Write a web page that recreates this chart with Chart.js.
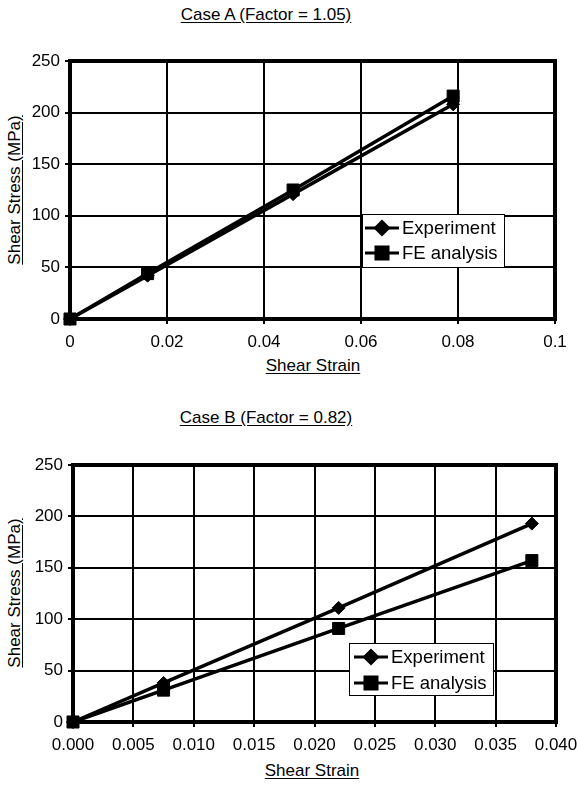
<!DOCTYPE html>
<html>
<head>
<meta charset="utf-8">
<script src="https://cdn.jsdelivr.net/npm/chart.js@4/dist/chart.umd.min.js"></script>
<style>
  html, body { margin: 0; padding: 0; background: #fff; }
  body { width: 577px; height: 785px; position: relative; overflow: hidden;
         font-family: "Liberation Sans", Arial, sans-serif; color: #000; }
  canvas { position: absolute; left: 0; }
  .t { position: absolute; font-size: 17px; line-height: 20px; white-space: nowrap;
       text-decoration: underline; text-underline-offset: 2px; text-align: center; }
  .yt { transform: rotate(-90deg); transform-origin: center center; }
</style>
</head>
<body>
<div class="t" id="titleA" style="left:0; width:532px; top:5px;"></div>
<div class="t yt" id="ytA" style="left:-85px; width:200px; top:180px;"></div>
<div class="t" id="xtA" style="left:213px; width:200px; top:356px;"></div>
<canvas id="cA" width="577" height="320" style="top:40px; width:577px; height:320px;"></canvas>

<div class="t" id="titleB" style="left:0; width:532px; top:408px;"></div>
<div class="t yt" id="ytB" style="left:-85px; width:200px; top:583px;"></div>
<div class="t" id="xtB" style="left:212px; width:200px; top:761px;"></div>
<canvas id="cB" width="577" height="320" style="top:440px; width:577px; height:320px;"></canvas>

<script>
// ---------- data ----------
const titleA = "Case A (Factor = 1.05)";
const titleB = "Case B (Factor = 0.82)";
const xAxisTitle = "Shear Strain";
const yAxisTitle = "Shear Stress (MPa)";
const seriesNames = ["Experiment", "FE analysis"];

const strainA = [0, 0.016, 0.046, 0.079];
const experimentA = [0, 42, 121, 208];
const feAnalysisA = [0, 44, 125, 216];

const strainB = [0, 0.0075, 0.022, 0.038];
const experimentB = [0, 38, 111, 193];
const feAnalysisB = [0, 31, 91, 157];

const xTickValuesA = [0, 0.02, 0.04, 0.06, 0.08, 0.1];
const xTickLabelsA = ["0", "0.02", "0.04", "0.06", "0.08", "0.1"];
const xTickValuesB = [0, 0.005, 0.01, 0.015, 0.02, 0.025, 0.03, 0.035, 0.04];
const xTickLabelsB = ["0.000", "0.005", "0.010", "0.015", "0.020", "0.025", "0.030", "0.035", "0.040"];
const yTickValues = [0, 50, 100, 150, 200, 250];
const yTickLabels = ["0", "50", "100", "150", "200", "250"];

// ---------- text ----------
document.getElementById('titleA').textContent = titleA;
document.getElementById('titleB').textContent = titleB;
document.getElementById('ytA').textContent = yAxisTitle;
document.getElementById('ytB').textContent = yAxisTitle;
document.getElementById('xtA').textContent = xAxisTitle;
document.getElementById('xtB').textContent = xAxisTitle;

const FONT = { family: '"Liberation Sans", Arial, sans-serif', size: 17 };
const INK = '#000';

function pts(xs, ys) { return xs.map((x, i) => ({ x: x, y: ys[i] })); }

// frame around plot area
const framePlugin = {
  id: 'frame',
  beforeDatasetsDraw(chart) {
    const a = chart.chartArea, ctx = chart.ctx;
    ctx.save();
    ctx.strokeStyle = INK;
    ctx.lineWidth = 4;
    ctx.strokeRect(a.left, a.top, a.right - a.left, a.bottom - a.top);
    ctx.restore();
  }
};

// inset legend with border
const insetLegend = {
  id: 'insetLegend',
  afterDatasetsDraw(chart, args, opts) {
    const a = chart.chartArea, ctx = chart.ctx;
    const bx = a.left + opts.dx, by = a.top + opts.dy;
    ctx.save();
    ctx.fillStyle = '#fff';
    ctx.fillRect(bx, by, opts.w, opts.h);
    ctx.strokeStyle = INK;
    ctx.lineWidth = 1;
    ctx.strokeRect(bx + 0.5, by + 0.5, opts.w, opts.h);
    chart.data.datasets.forEach((ds, i) => {
      const y = by + opts.rowY[i];
      const x0 = bx + opts.lineX0, x1 = bx + opts.lineX1;
      ctx.strokeStyle = INK;
      ctx.lineWidth = 3;
      ctx.beginPath(); ctx.moveTo(x0, y); ctx.lineTo(x1, y); ctx.stroke();
      ctx.fillStyle = INK;
      Chart.helpers.drawPoint(ctx, {
        pointStyle: ds.pointStyle, radius: ds.pointRadius, rotation: 0, borderWidth: 1
      }, (x0 + x1) / 2, y);
      ctx.fillStyle = INK;
      ctx.font = '18.5px "Liberation Sans", Arial, sans-serif';
      ctx.textBaseline = 'middle';
      ctx.textAlign = 'left';
      ctx.fillText(ds.label, x1 + 3, y + 1);
    });
    ctx.restore();
  }
};

function makeChart(id, xs, e, f, xVals, xLabels, xMax, opt) {
  return new Chart(document.getElementById(id), {
    type: 'scatter',
    data: {
      datasets: [
        { label: seriesNames[0], data: pts(xs, e), showLine: true,
          borderColor: INK, backgroundColor: INK, borderWidth: 3.5,
          pointStyle: 'rectRot', pointRadius: 6.5, pointBorderWidth: 1, clip: false },
        { label: seriesNames[1], data: pts(xs, f), showLine: true,
          borderColor: INK, backgroundColor: INK, borderWidth: 3.5,
          pointStyle: 'rect', pointRadius: 8.5, pointBorderWidth: 1, clip: false }
      ]
    },
    options: {
      responsive: false,
      animation: false,
      events: [],
      layout: { padding: { left: 0, right: opt.padRight, top: opt.padTop, bottom: 0 } },
      plugins: {
        legend: { display: false },
        tooltip: { enabled: false },
        insetLegend: opt.legend
      },
      scales: {
        x: {
          type: 'linear', min: 0, max: xMax,
          afterBuildTicks(s) { s.ticks = xVals.map(v => ({ value: v })); },
          afterFit(s) { s.height = opt.xHeight; s.paddingLeft = 0; s.paddingRight = 0; },
          ticks: {
            font: FONT, color: INK, padding: 8, maxRotation: 0, autoSkip: false,
            callback: (v, i) => xLabels[i]
          },
          grid: { color: INK, lineWidth: 2, tickLength: 5, tickColor: INK, tickWidth: 2 },
          border: { color: INK, width: 4 }
        },
        y: {
          type: 'linear', min: 0, max: 250,
          afterBuildTicks(s) { s.ticks = yTickValues.map(v => ({ value: v })); },
          afterFit(s) { s.width = opt.yWidth; s.paddingTop = 0; s.paddingBottom = 0; },
          ticks: {
            font: FONT, color: INK, padding: 5, autoSkip: false,
            callback: (v, i) => yTickLabels[i]
          },
          grid: { color: INK, lineWidth: 2, tickLength: 5, tickColor: INK, tickWidth: 2 },
          border: { color: INK, width: 4 }
        }
      }
    },
    plugins: [framePlugin, insetLegend]
  });
}

makeChart('cA', strainA, experimentA, feAnalysisA, xTickValuesA, xTickLabelsA, 0.1, {
  padRight: 22, padTop: 21, xHeight: 41, yWidth: 70,
  legend: { dx: 292, dy: 153, w: 142, h: 53, rowY: [14, 39], lineX0: 3, lineX1: 37 }
});
makeChart('cB', strainB, experimentB, feAnalysisB, xTickValuesB, xTickLabelsB, 0.04, {
  padRight: 21, padTop: 25, xHeight: 38, yWidth: 73,
  legend: { dx: 276, dy: 178, w: 144, h: 52, rowY: [14, 40], lineX0: 5, lineX1: 39 }
});
</script>
</body>
</html>
